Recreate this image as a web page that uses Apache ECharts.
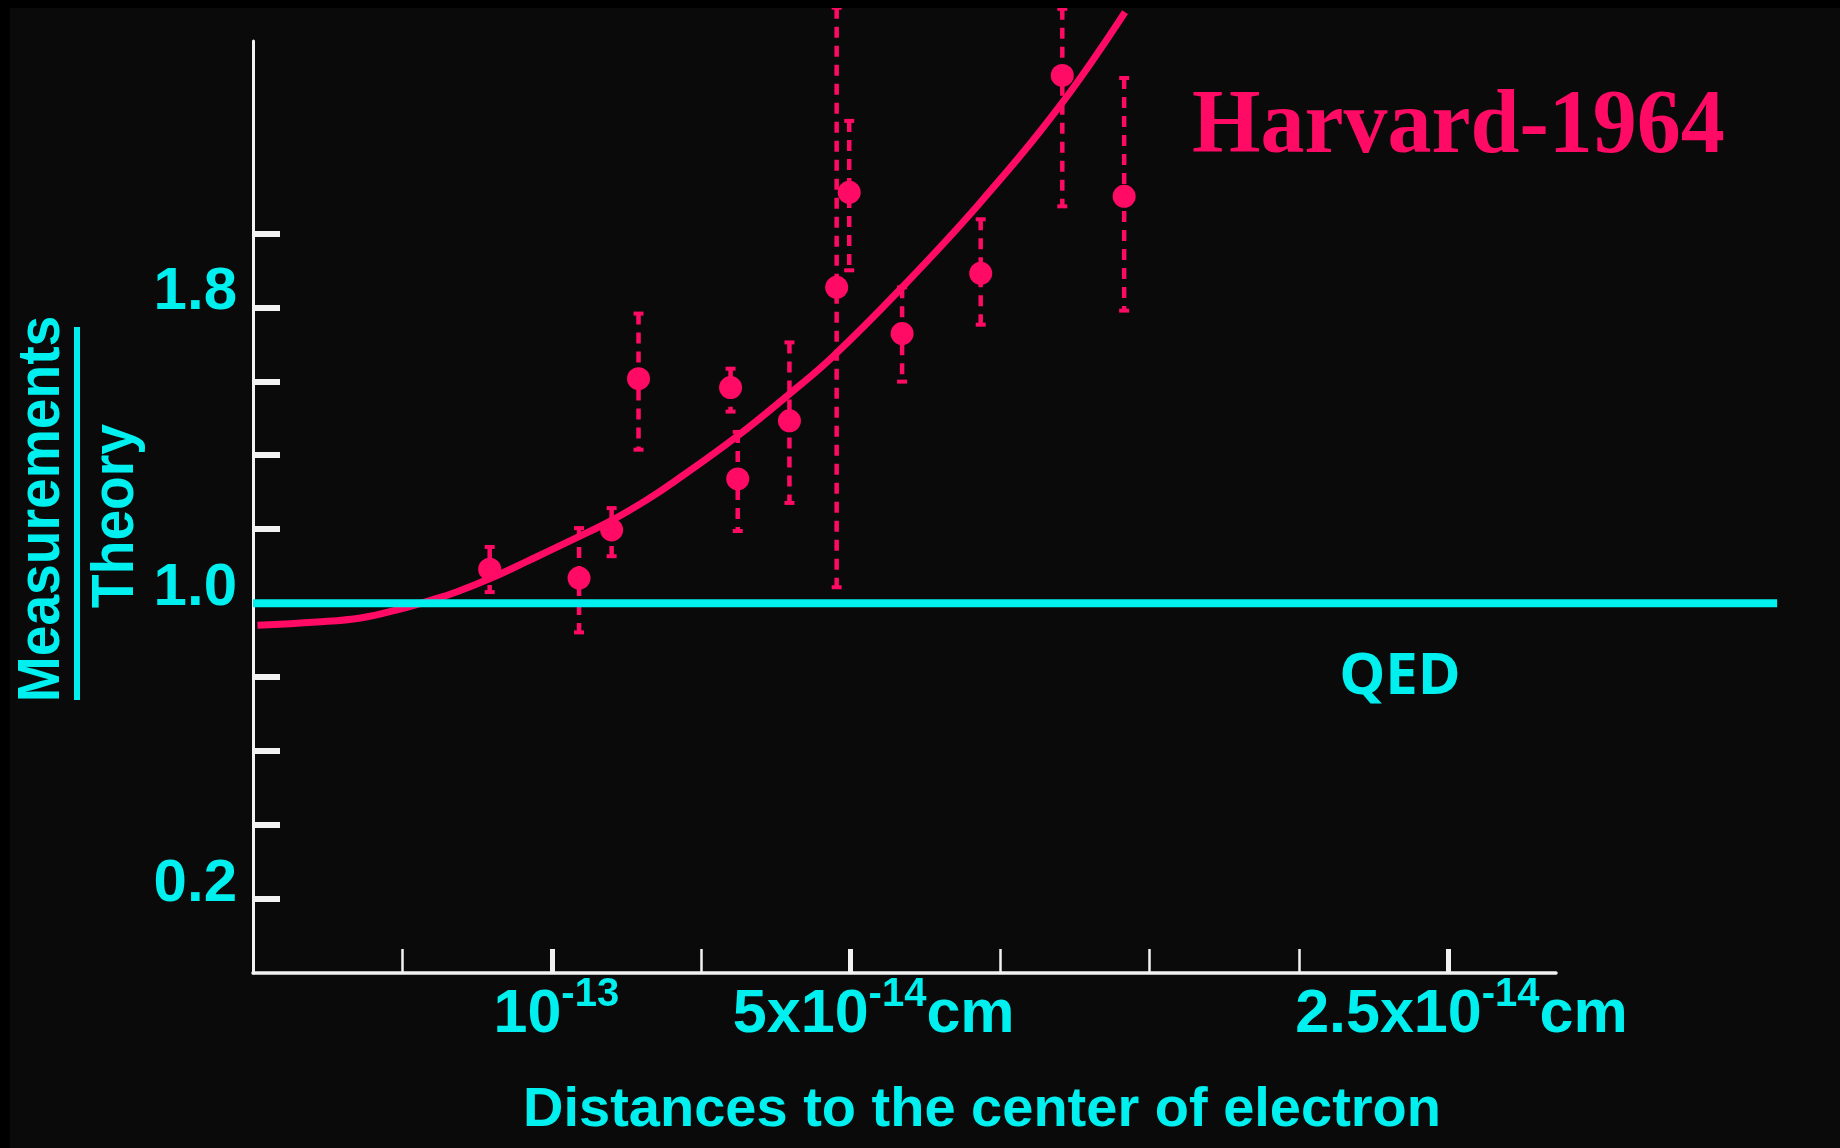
<!DOCTYPE html>
<html>
<head>
<meta charset="utf-8">
<script src="https://cdn.jsdelivr.net/npm/echarts@6.0.0/dist/echarts.min.js"></script>
<style>
  html, body { margin: 0; padding: 0; background: #000; }
  #container { width: 1840px; height: 1148px; }
</style>
</head>
<body>
<div id="container"></div>
<script>
var dom = document.getElementById("container");
var myChart = echarts.init(dom);
var option;

var PINK = "#ff0a64";
var CYAN = "#00f0f0";
var AXIS = "#f2f2f2";
var SANS = '"Liberation Sans", Arial, Helvetica, sans-serif';

// x = 1/r in units of 10^13 cm^-1, y = measurement / theory
var pointX = [7.92, 10.91, 12.0, 12.9, 15.98, 16.22, 17.95, 19.53, 19.95, 21.72, 24.35, 27.08, 29.15];
var pointY = [1.092, 1.068, 1.198, 1.607, 1.583, 1.336, 1.493, 1.854, 2.111, 1.729, 1.892, 2.427, 2.1];
var errLow = [1.03, 0.921, 1.127, 1.415, 1.518, 1.195, 1.271, 1.043, 1.9, 1.599, 1.753, 2.073, 1.791];
var errHigh = [1.152, 1.203, 1.257, 1.783, 1.634, 1.463, 1.705, 2.61, 2.304, 1.854, 2.038, 2.607, 2.42];

// fitted curve
var fitX = [0.15, 2.14, 3.6, 4.92, 5.92, 6.83, 8.03, 9.17, 10.78, 12.05, 13.19, 14.12, 16.21, 17.94, 19.38, 21.65, 24.28, 27.03, 29.18];
var fitY = [0.94, 0.949, 0.96, 0.984, 1.007, 1.031, 1.07, 1.113, 1.175, 1.226, 1.28, 1.33, 1.452, 1.565, 1.665, 1.848, 2.078, 2.348, 2.598];

// QED line (ratio = 1)
var qedX = [0, 51];
var qedY = [1, 1];

// axes
var yTickValues = [0.2, 0.4, 0.6, 0.8, 1.0, 1.2, 1.4, 1.6, 1.8, 2.0];
var yLabelValues = [0.2, 1.0, 1.8];
var xTickValues = [5, 10, 15, 20, 25, 30, 35, 40];
var xLabelValues = [10, 20, 40];
var xLabelBase = ["10", "5x10", "2.5x10"];
var xLabelExp = ["-13", "-14", "-14"];
var xLabelUnit = ["", "cm", "cm"];

var fitData = fitX.map(function (x, i) { return [x, fitY[i]]; });
var pointData = pointX.map(function (x, i) { return [x, pointY[i]]; });
var errData = pointX.map(function (x, i) { return [x, errLow[i], errHigh[i]]; });
var qedData = [[qedX[0], qedY[0], qedX[1], qedY[1]]];

function renderErr(params, api) {
  var x = api.value(0);
  var lo = api.coord([x, api.value(1)]);
  var hi = api.coord([x, api.value(2)]);
  var capStyle = { stroke: PINK, lineWidth: 4 };
  return {
    type: "group",
    children: [
      {
        type: "line",
        shape: { x1: hi[0], y1: hi[1], x2: lo[0], y2: lo[1] },
        style: { stroke: PINK, lineWidth: 4.5, lineDash: [11, 8] }
      },
      { type: "line", shape: { x1: hi[0] - 5, y1: hi[1], x2: hi[0] + 5, y2: hi[1] }, style: capStyle },
      { type: "line", shape: { x1: lo[0] - 5, y1: lo[1], x2: lo[0] + 5, y2: lo[1] }, style: capStyle }
    ]
  };
}

function renderQed(params, api) {
  var a = api.coord([api.value(0), api.value(1)]);
  var b = api.coord([api.value(2), api.value(3)]);
  return {
    type: "line",
    shape: { x1: a[0], y1: a[1], x2: b[0], y2: b[1] },
    style: { stroke: CYAN, lineWidth: 8 }
  };
}

var mainTxt = { fontSize: 61, fontWeight: "bold", fontFamily: SANS, color: CYAN, lineHeight: 61 };
var padLeft = [9, 46, 26];
var rich = {
  s: { fontSize: 40, fontWeight: "bold", fontFamily: SANS, color: CYAN, lineHeight: 40, padding: [0, 0, 42, 0] },
  m: mainTxt
};
padLeft.forEach(function (p, i) {
  rich["m" + i] = Object.assign({}, mainTxt, { padding: [0, 0, 0, p] });
});

option = {
  animation: false,
  backgroundColor: "#0a0a0a",
  grid: { left: 253, right: 284, top: 41, bottom: 175 },
  xAxis: [
    {
      type: "value",
      min: 0,
      max: 43.6,
      axisLine: { show: true, lineStyle: { color: AXIS, width: 3.5 } },
      axisTick: { show: true, inside: true, length: 24, customValues: xTickValues, lineStyle: { color: AXIS, width: 2.5 } },
      axisLabel: { show: false },
      splitLine: { show: false }
    },
    {
      type: "value",
      position: "bottom",
      min: 0,
      max: 43.6,
      axisLine: { show: false },
      axisTick: { show: true, inside: true, length: 24, customValues: xLabelValues, lineStyle: { color: AXIS, width: 5 } },
      axisLabel: {
        show: true,
        margin: 12,
        customValues: xLabelValues,
        formatter: function (v) {
          var i = xLabelValues.indexOf(v);
          if (i < 0) return "";
          var s = "{m" + i + "|" + xLabelBase[i] + "}{s|" + xLabelExp[i] + "}";
          if (xLabelUnit[i]) s += "{m|" + xLabelUnit[i] + "}";
          return s;
        },
        rich: rich
      },
      splitLine: { show: false }
    }
  ],
  yAxis: {
    type: "value",
    min: 0,
    max: 2.52,
    axisLine: { show: true, lineStyle: { color: AXIS, width: 3 } },
    axisTick: { show: true, inside: true, length: 27, customValues: yTickValues, lineStyle: { color: AXIS, width: 6 } },
    axisLabel: {
      show: true,
      margin: 16,
      customValues: yLabelValues,
      formatter: function (v) { return v.toFixed(1); },
      color: CYAN,
      fontSize: 60,
      fontWeight: "bold",
      fontFamily: SANS,
      verticalAlign: "bottom",
      lineHeight: 30
    },
    splitLine: { show: false }
  },
  graphic: [
    { type: "rect", shape: { x: 0, y: 0, width: 10, height: 1148 }, style: { fill: "#000" }, z: 100 },
    { type: "rect", shape: { x: 0, y: 0, width: 1840, height: 8 }, style: { fill: "#000" }, z: 100 },
    {
      type: "text", x: 42, y: 509, rotation: Math.PI / 2, scaleX: 0.92,
      style: { text: "Measurements", fill: CYAN, font: "bold 60px " + SANS, align: "center", verticalAlign: "middle" }
    },
    {
      type: "line", shape: { x1: 77, y1: 327, x2: 77, y2: 700 }, style: { stroke: CYAN, lineWidth: 6 }
    },
    {
      type: "text", x: 116, y: 516, rotation: Math.PI / 2, scaleX: 0.92,
      style: { text: "Theory", fill: CYAN, font: "bold 60px " + SANS, align: "center", verticalAlign: "middle" }
    },
    {
      type: "text", x: 982, y: 1111,
      style: { text: "Distances to the center of electron", fill: CYAN, font: "bold 56px " + SANS, align: "center", verticalAlign: "middle" }
    },
    {
      type: "text", x: 1400, y: 677,
      style: { text: "QED", fill: CYAN, font: 'bold 58px "Open Sans", sans-serif', align: "center", verticalAlign: "middle" }
    },
    {
      type: "text", x: 1192, y: 128, scaleY: 1.04,
      style: { text: "Harvard-1964", fill: PINK, font: 'bold 88px "Liberation Serif", "Times New Roman", serif', align: "left", verticalAlign: "middle" }
    }
  ],
  series: [
    {
      name: "error",
      type: "custom",
      renderItem: renderErr,
      data: errData,
      encode: { x: 0, y: [1, 2] },
      clip: false,
      z: 2
    },
    {
      name: "fit",
      type: "line",
      data: fitData,
      smooth: 0.4,
      showSymbol: false,
      symbol: "none",
      clip: false,
      lineStyle: { color: PINK, width: 7 },
      z: 3
    },
    {
      name: "QED",
      type: "custom",
      renderItem: renderQed,
      data: qedData,
      encode: { x: [0, 2], y: [1, 3] },
      clip: false,
      z: 4
    },
    {
      name: "Harvard-1964",
      type: "scatter",
      data: pointData,
      symbol: "circle",
      symbolSize: 23,
      clip: false,
      itemStyle: { color: PINK, opacity: 1 },
      z: 5
    }
  ]
};

myChart.setOption(option);
</script>
</body>
</html>
